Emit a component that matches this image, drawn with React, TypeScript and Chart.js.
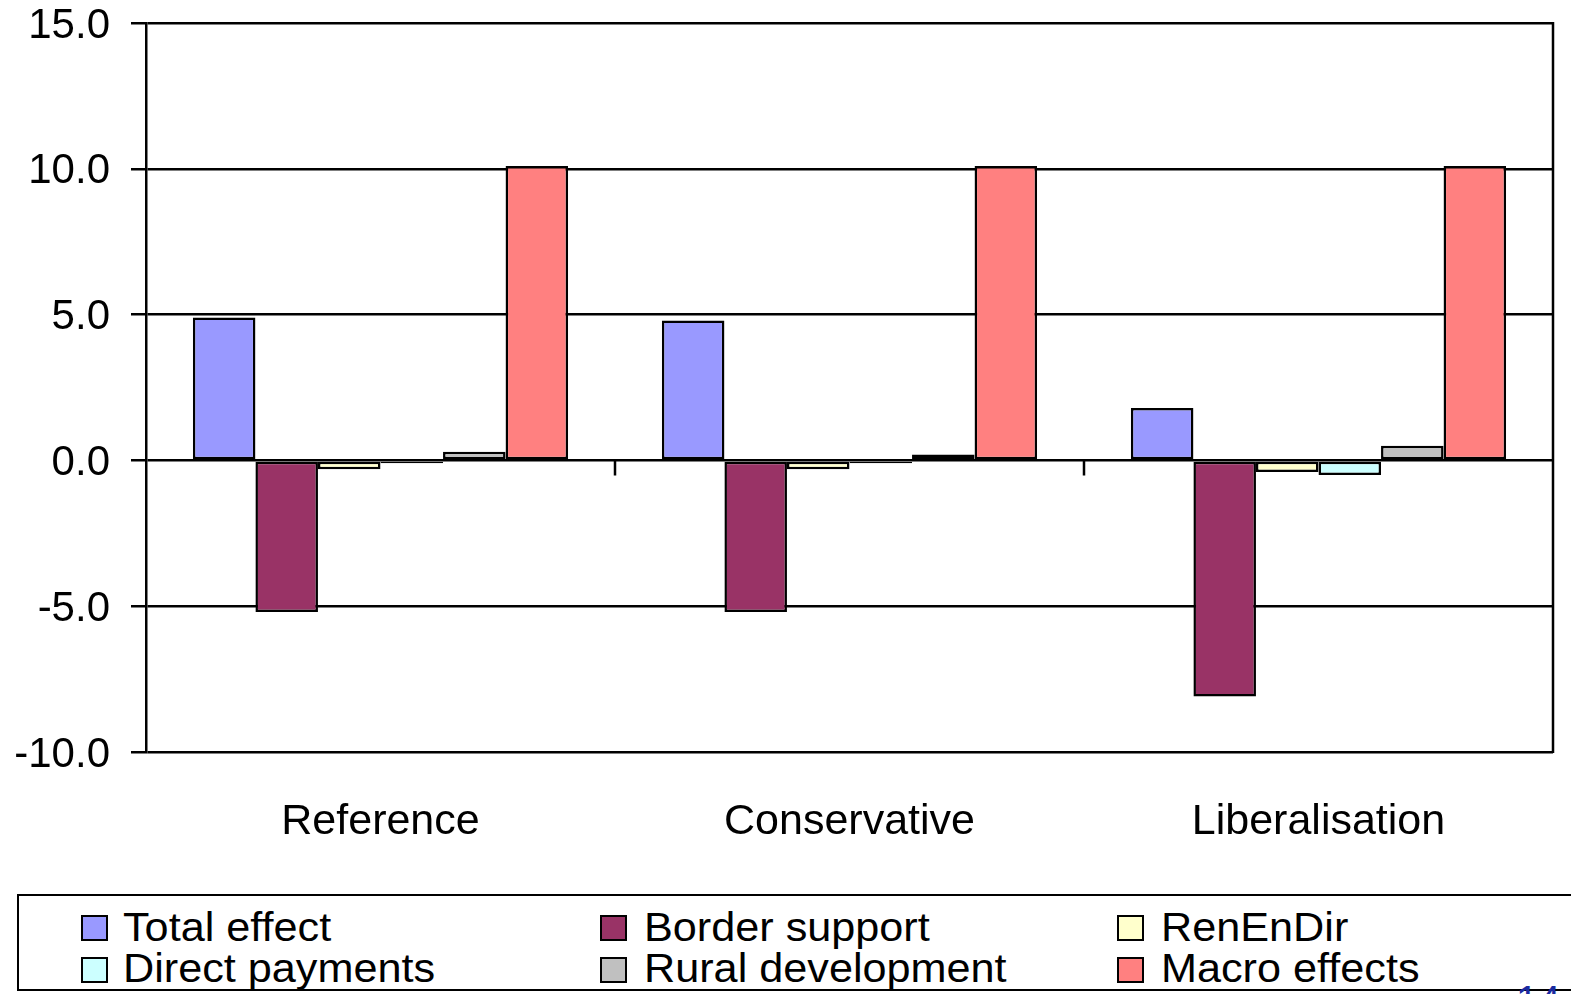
import React, { useEffect, useRef } from "react";
import { Chart, registerables } from "chart.js";

Chart.register(...registerables);

const categories = ["Reference", "Conservative", "Liberalisation"];
const totalEffect = [4.9, 4.8, 1.8];
const borderSupport = [-5.2, -5.2, -8.1];
const renEnDir = [-0.3, -0.3, -0.4];
const directPayments = [-0.1, -0.1, -0.5];
const ruralDevelopment = [0.3, 0.2, 0.5];
const macroEffects = [10.1, 10.1, 10.1];

const seriesNames = [
  "Total effect",
  "Border support",
  "RenEnDir",
  "Direct payments",
  "Rural development",
  "Macro effects",
];
const seriesColors = ["#9999FF", "#993366", "#FFFFCC", "#CCFFFF", "#C0C0C0", "#FF8080"];
const seriesValues = [totalEffect, borderSupport, renEnDir, directPayments, ruralDevelopment, macroEffects];

const FONT = "'Liberation Sans', Arial, sans-serif";

const framePlugin = {
  id: "frame",
  afterDraw(chart: any) {
    const { ctx, chartArea } = chart;
    const y = chart.scales.y;
    const x = chart.scales.x;
    ctx.save();
    ctx.strokeStyle = "#000";
    ctx.lineWidth = 2.5;
    ctx.beginPath();
    ctx.moveTo(chartArea.right, chartArea.top - 1);
    ctx.lineTo(chartArea.right, chartArea.bottom + 1);
    const y0 = y.getPixelForValue(0);
    const n = x.ticks.length;
    const w = (chartArea.right - chartArea.left) / n;
    for (let i = 1; i < n; i++) {
      const px = Math.round(chartArea.left + i * w);
      ctx.moveTo(px, y0);
      ctx.lineTo(px, y0 + 15);
    }
    ctx.stroke();
    ctx.restore();
  },
};

export default function App() {
  const ref = useRef<HTMLCanvasElement | null>(null);
  useEffect(() => {
    if (!ref.current) return;
    const chart = new Chart(ref.current, {
      type: "bar",
      data: {
        labels: categories,
        datasets: seriesNames.map((name, i) => ({
          label: name,
          data: seriesValues[i],
          backgroundColor: seriesColors[i],
          borderColor: "#000",
          borderWidth: 2.5,
          borderSkipped: false,
          categoryPercentage: 0.8,
          barPercentage: 1.0,
        })),
      },
      options: {
        responsive: false,
        animation: false,
        devicePixelRatio: 1,
        layout: { padding: { left: 0, top: 23, right: 18, bottom: 0 } },
        plugins: { legend: { display: false }, tooltip: { enabled: false } },
        scales: {
          x: {
            grid: { display: false, drawTicks: false },
            border: { display: false },
            ticks: { color: "#000", font: { family: FONT, size: 43 }, padding: 44 },
            afterFit: (s: any) => {
              s.height = 880 - 752;
              s.paddingLeft = 0;
              s.paddingRight = 0;
            },
          },
          y: {
            min: -10,
            max: 15,
            ticks: {
              stepSize: 5,
              color: "#000",
              font: { family: FONT, size: 42 },
              padding: 21,
              labelOffset: 3,
              callback: (v: any) => Number(v).toFixed(1),
            },
            grid: { color: "#000", lineWidth: 2.5, tickLength: 15, drawTicks: true },
            border: { display: true, color: "#000", width: 2.5 },
            afterFit: (s: any) => {
              s.width = 146;
              s.paddingTop = 0;
              s.paddingBottom = 0;
            },
          },
        },
      },
      plugins: [framePlugin],
    });
    return () => chart.destroy();
  }, []);

  const legendItems = [
    { col: 0, row: 0, idx: 0 },
    { col: 1, row: 0, idx: 1 },
    { col: 2, row: 0, idx: 2 },
    { col: 0, row: 1, idx: 3 },
    { col: 1, row: 1, idx: 4 },
    { col: 2, row: 1, idx: 5 },
  ];
  const colSquareX = [80, 599, 1116];
  const colTextX = [122, 643, 1160];

  return (
    <div
      style={{
        position: "fixed",
        left: 0,
        top: 0,
        width: 1571,
        height: 994,
        overflow: "hidden",
        background: "#fff",
      }}
    >
      <canvas ref={ref} width={1571} height={880} style={{ display: "block", width: 1571, height: 880 }} />
      <div
        style={{
          position: "absolute",
          left: 17,
          top: 894,
          width: 1600,
          height: 97,
          border: "2.5px solid #000",
          boxSizing: "border-box",
          overflow: "hidden",
        }}
      >
        {legendItems.map((it) => (
          <React.Fragment key={it.idx}>
            <div
              style={{
                position: "absolute",
                left: colSquareX[it.col] - 18,
                top: 19 + it.row * 42,
                width: 27,
                height: 26,
                boxSizing: "border-box",
                border: "2.5px solid #000",
                background: seriesColors[it.idx],
              }}
            />
            <div
              style={{
                position: "absolute",
                left: colTextX[it.col] - 18,
                top: 8 + it.row * 41,
                fontFamily: FONT,
                fontSize: 40,
                lineHeight: "46px",
                color: "#000",
                whiteSpace: "nowrap",
                transform: "scaleX(1.08)",
                transformOrigin: "left center",
              }}
            >
              {seriesNames[it.idx]}
            </div>
          </React.Fragment>
        ))}
      </div>
      <div
        style={{
          position: "absolute",
          left: 1516,
          top: 977,
          fontFamily: FONT,
          fontSize: 40,
          lineHeight: "46px",
          color: "#1a2aa0",
        }}
      >
        14
      </div>
    </div>
  );
}
